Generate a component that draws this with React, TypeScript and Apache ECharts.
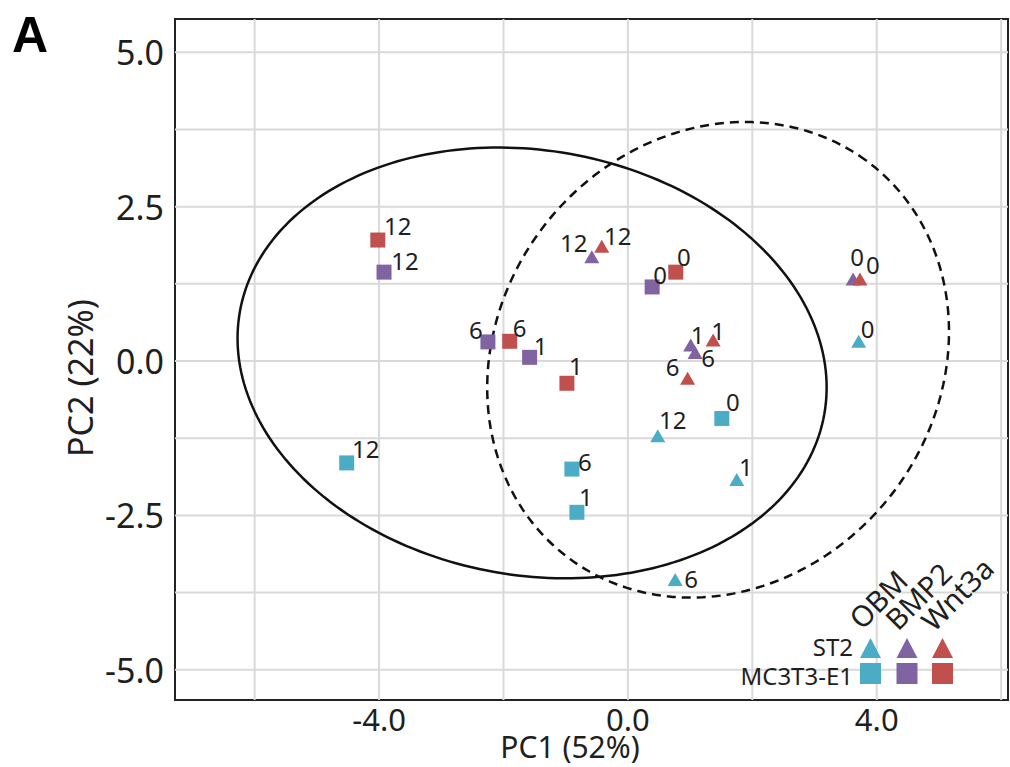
import React, { useEffect, useRef } from "react";
import * as echarts from "echarts";

// ---- Data (PC1, PC2, time-point label) ----
const MC3T3_OBM: [number, number, string][] = [
  [-4.52, -1.65, "12"],
  [-0.9, -1.75, "6"],
  [-0.82, -2.45, "1"],
  [1.51, -0.93, "0"],
];
const MC3T3_BMP2: [number, number, string][] = [
  [-3.92, 1.44, "12"],
  [-2.25, 0.31, "6"],
  [-1.58, 0.06, "1"],
  [0.39, 1.2, "0"],
];
const MC3T3_WNT3A: [number, number, string][] = [
  [-4.02, 1.96, "12"],
  [-1.9, 0.32, "6"],
  [-0.98, -0.36, "1"],
  [0.77, 1.44, "0"],
];
const ST2_OBM: [number, number, string][] = [
  [0.48, -1.21, "12"],
  [1.75, -1.92, "1"],
  [0.76, -3.54, "6"],
  [3.71, 0.32, "0"],
];
const ST2_BMP2: [number, number, string][] = [
  [-0.58, 1.69, "12"],
  [1.01, 0.26, "1"],
  [1.08, 0.14, "6"],
  [3.62, 1.33, "0"],
];
const ST2_WNT3A: [number, number, string][] = [
  [-0.42, 1.86, "12"],
  [1.37, 0.34, "1"],
  [0.96, -0.28, "6"],
  [3.73, 1.33, "0"],
];

// Confidence ellipses (centre, semi-axes, rotation in degrees)
const ELLIPSE_MC3T3 = { cx: -1.54, cy: -0.03, rx: 4.77, ry: 3.44, angle: -10.1, dashed: false };
const ELLIPSE_ST2 = { cx: 1.45, cy: 0.02, rx: 4.01, ry: 3.54, angle: 53.7, dashed: true };
const ELLIPSES = [ELLIPSE_MC3T3, ELLIPSE_ST2];

// Axes
const X_MIN = -7.28;
const X_MAX = 6.11;
const Y_MIN = -5.49;
const Y_MAX = 5.54;
const X_GRID = [-6, -4, -2, 0, 2, 4, 6];
const Y_GRID = [-5, -3.75, -2.5, -1.25, 0, 1.25, 2.5, 3.75, 5];
const X_LABELS = [-4, 0, 4];
const Y_LABELS = [-5, -2.5, 0, 2.5, 5];

const TREATMENTS = ["OBM", "BMP2", "Wnt3a"];
const CELL_LINES = ["ST2", "MC3T3-E1"];

// ---- Styles ----
const COLORS: Record<string, string> = { OBM: "#4bacc6", BMP2: "#8064a2", Wnt3a: "#c0504d" };
const FONT = "Noto Sans";
const TEXT = "#1f1f1f";

// label offsets in pixels (style only)
const OFF_MC3T3_OBM: [number, number][] = [[19, -14], [13, -8], [9, -16], [11, -17]];
const OFF_MC3T3_BMP2: [number, number][] = [[21, -12], [-12, -12], [11, -12], [8, -12]];
const OFF_MC3T3_WNT3A: [number, number][] = [[20, -15], [10, -14], [9, -18], [8, -16]];
const OFF_ST2_OBM: [number, number][] = [[15, -16], [9, -13], [16, -1], [9, -13]];
const OFF_ST2_BMP2: [number, number][] = [[-18, -14], [7, -10], [13, 5], [4, -22]];
const OFF_ST2_WNT3A: [number, number][] = [[16, -11], [5, -10], [-15, -12], [13, -14]];

function makeSeries(
  name: string,
  pts: [number, number, string][],
  offs: [number, number][],
  symbol: string,
  size: number | number[],
  color: string
) {
  return {
    type: "scatter",
    name,
    z: 3,
    symbol,
    symbolSize: size,
    itemStyle: { color, opacity: 1 },
    emphasis: { disabled: true },
    data: pts.map((p, i) => ({
      value: [p[0], p[1]],
      name: p[2],
      label: { offset: offs[i] },
    })),
    label: {
      show: true,
      position: "inside",
      formatter: (p: any) => p.name,
      color: TEXT,
      fontFamily: FONT,
      fontSize: 24,
      align: "center",
      verticalAlign: "middle",
    },
  };
}

function gridSeries(values: number[], vertical: boolean) {
  return {
    type: "custom",
    name: vertical ? "vgrid" : "hgrid",
    z: 1,
    silent: true,
    clip: true,
    data: values.map((v) => (vertical ? [v, 0] : [0, v])),
    renderItem: (params: any, api: any) => {
      const v = values[params.dataIndex];
      const p1 = vertical ? api.coord([v, Y_MIN]) : api.coord([X_MIN, v]);
      const p2 = vertical ? api.coord([v, Y_MAX]) : api.coord([X_MAX, v]);
      return {
        type: "line",
        shape: { x1: p1[0], y1: p1[1], x2: p2[0], y2: p2[1] },
        style: { stroke: "#d9d9d9", lineWidth: 2 },
      };
    },
  };
}

export default function App() {
  const ref = useRef<HTMLDivElement>(null);
  useEffect(() => {
    document.body.style.margin = "0";
    if (!ref.current) return;
    const chart = echarts.init(ref.current, undefined, { renderer: "svg" });

    const sq = 15;
    const tri = [15, 13];
    const series: any[] = [
      gridSeries(X_GRID, true),
      gridSeries(Y_GRID, false),
      {
        type: "custom",
        name: "ellipses",
        z: 2,
        silent: true,
        clip: true,
        data: ELLIPSES.map((e) => [e.cx, e.cy]),
        renderItem: (params: any, api: any) => {
          const e = ELLIPSES[params.dataIndex];
          const a = (e.angle * Math.PI) / 180;
          const pts: number[][] = [];
          const n = 240;
          for (let i = 0; i <= n; i++) {
            const t = (2 * Math.PI * i) / n;
            const x = e.cx + e.rx * Math.cos(t) * Math.cos(a) - e.ry * Math.sin(t) * Math.sin(a);
            const y = e.cy + e.rx * Math.cos(t) * Math.sin(a) + e.ry * Math.sin(t) * Math.cos(a);
            pts.push(api.coord([x, y]));
          }
          return {
            type: "polyline",
            shape: { points: pts },
            style: {
              fill: null,
              stroke: "#111",
              lineWidth: 2.5,
              lineDash: e.dashed ? [9, 6] : null,
            },
          };
        },
      },
      makeSeries("MC3T3-E1 OBM", MC3T3_OBM, OFF_MC3T3_OBM, "rect", sq, COLORS.OBM),
      makeSeries("ST2 OBM", ST2_OBM, OFF_ST2_OBM, "triangle", tri, COLORS.OBM),
      makeSeries("MC3T3-E1 BMP2", MC3T3_BMP2, OFF_MC3T3_BMP2, "rect", sq, COLORS.BMP2),
      makeSeries("ST2 BMP2", ST2_BMP2, OFF_ST2_BMP2, "triangle", tri, COLORS.BMP2),
      makeSeries("MC3T3-E1 Wnt3a", MC3T3_WNT3A, OFF_MC3T3_WNT3A, "rect", sq, COLORS.Wnt3a),
      makeSeries("ST2 Wnt3a", ST2_WNT3A, OFF_ST2_WNT3A, "triangle", tri, COLORS.Wnt3a),
    ];

    // legend graphics
    const legendX = [870.5, 907, 942.5];
    const legendLabelStart = [[864, 633], [900, 634], [936, 635]];
    const graphics: any[] = [
      {
        type: "text",
        left: 12,
        top: 10,
        z: 100,
        style: { text: "A", font: `bold 50px "Liberation Sans"`, fill: "#000" },
      },
      {
        type: "text",
        x: 570,
        y: 746,
        z: 100,
        style: {
          text: "PC1 (52%)",
          font: `30px "${FONT}"`,
          fill: TEXT,
          textAlign: "center",
          textVerticalAlign: "middle",
        },
      },
      {
        type: "text",
        x: 80,
        y: 378,
        rotation: Math.PI / 2,
        z: 100,
        style: {
          text: "PC2 (22%)",
          font: `34px "${FONT}"`,
          fill: TEXT,
          textAlign: "center",
          textVerticalAlign: "middle",
        },
      },
      {
        type: "text",
        x: 853,
        y: 646,
        z: 100,
        style: {
          text: CELL_LINES[0],
          font: `24px "${FONT}"`,
          fill: TEXT,
          textAlign: "right",
          textVerticalAlign: "middle",
        },
      },
      {
        type: "text",
        x: 853,
        y: 675,
        z: 100,
        style: {
          text: CELL_LINES[1],
          font: `24px "${FONT}"`,
          fill: TEXT,
          textAlign: "right",
          textVerticalAlign: "middle",
        },
      },
    ];
    TREATMENTS.forEach((t, i) => {
      const cx = legendX[i];
      graphics.push({
        type: "polygon",
        z: 100,
        shape: { points: [[cx - 10.5, 658], [cx + 10.5, 658], [cx, 638]] },
        style: { fill: COLORS[t] },
      });
      graphics.push({
        type: "rect",
        z: 100,
        shape: { x: cx - 10.5, y: 663, width: 21, height: 21 },
        style: { fill: COLORS[t] },
      });
      graphics.push({
        type: "text",
        z: 100,
        x: legendLabelStart[i][0],
        y: legendLabelStart[i][1],
        rotation: Math.PI / 4,
        style: {
          text: t,
          font: `29px "${FONT}"`,
          fill: TEXT,
          textAlign: "left",
          textVerticalAlign: "bottom",
        },
      });
    });

    chart.setOption({
      animation: false,
      backgroundColor: "#ffffff",
      grid: {
        left: 175,
        top: 19,
        right: 2,
        bottom: 67,
        show: true,
        borderColor: "#222",
        borderWidth: 2,
        backgroundColor: "transparent",
      },
      xAxis: {
        type: "value",
        min: X_MIN,
        max: X_MAX,
        splitLine: { show: false },
        axisTick: { show: false },
        axisLine: { show: true, onZero: false, lineStyle: { color: "#222", width: 2 } },
        axisLabel: {
          customValues: X_LABELS,
          formatter: (v: number) => v.toFixed(1),
          color: TEXT,
          fontFamily: FONT,
          fontSize: 31,
          margin: 3,
        },
      },
      yAxis: {
        type: "value",
        min: Y_MIN,
        max: Y_MAX,
        splitLine: { show: false },
        axisTick: { show: false },
        axisLine: { show: true, onZero: false, lineStyle: { color: "#222", width: 2 } },
        axisLabel: {
          customValues: Y_LABELS,
          formatter: (v: number) => v.toFixed(1),
          color: TEXT,
          fontFamily: FONT,
          fontSize: 34,
          margin: 11,
        },
      },
      graphic: graphics,
      series,
    });
    return () => chart.dispose();
  }, []);
  return <div ref={ref} style={{ width: 1010, height: 767 }} />;
}
